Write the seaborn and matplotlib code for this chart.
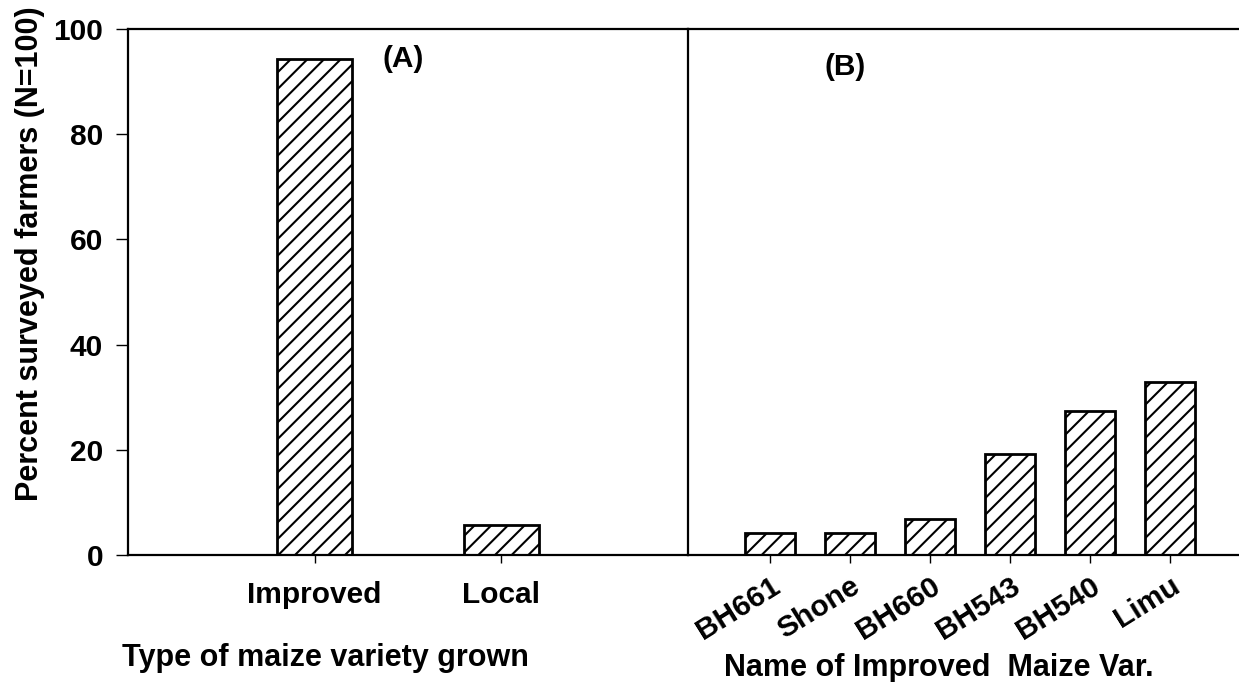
import matplotlib
matplotlib.use("Agg")
import matplotlib.pyplot as plt
import seaborn as sns
import pandas as pd

# Panel A: type of maize variety grown
type_names = ["Improved", "Local"]
type_pct = [94.3, 5.7]

# Panel B: improved maize varieties
var_names = ["BH661", "Shone", "BH660", "BH543", "BH540", "Limu"]
var_pct = [4.1, 4.1, 6.8, 19.2, 27.4, 32.9]

y_ticks = [0, 20, 40, 60, 80, 100]

sns.set_theme(style="white")
plt.rcParams["font.family"] = ["Liberation Sans", "DejaVu Sans"]
plt.rcParams["font.weight"] = "bold"
plt.rcParams["hatch.linewidth"] = 1.5
plt.rcParams["hatch.color"] = "black"
for key in ("text.color", "axes.labelcolor", "xtick.color", "ytick.color"):
    plt.rcParams[key] = "black"

W, H = 1239, 682
fig = plt.figure(figsize=(W / 100, H / 100), dpi=100)
fig.patch.set_facecolor("white")

y0, y1 = 555, 29
x_left0, x_div = 128, 688
axA = fig.add_axes([x_left0 / W, (H - y0) / H, (x_div - x_left0) / W, (y0 - y1) / H])
axB = fig.add_axes([x_div / W, (H - y0) / H, (W - x_div) / W, (y0 - y1) / H])

dfA = pd.DataFrame({"variety": type_names, "pct": type_pct})
dfB = pd.DataFrame({"variety": var_names, "pct": var_pct})

sns.barplot(data=dfA, x="variety", y="pct", order=type_names, color="white",
            edgecolor="black", linewidth=2.0, width=0.4, ax=axA, saturation=1)
sns.barplot(data=dfB, x="variety", y="pct", order=var_names, color="white",
            edgecolor="black", linewidth=2.0, width=0.625, ax=axB, saturation=1)

for ax in (axA, axB):
    for p in ax.patches:
        p.set_hatch("//")
        p.set_facecolor("white")
        p.set_edgecolor("black")
    ax.set_ylim(0, 100)
    ax.set_facecolor("white")
    ax.grid(False)
    for side in ("left", "top", "bottom"):
        ax.spines[side].set_visible(True)
        ax.spines[side].set_color("black")
        ax.spines[side].set_linewidth(1.6)
    ax.spines["right"].set_visible(False)
    ax.set_ylabel("")
    ax.tick_params(axis="x", direction="out", length=6, width=1, color="black",
                   bottom=True, labelsize=21.5, pad=13)

axA.set_xlim(-1.0, 2.0)
axB.set_xlim(-1.025, 5.86)

axA.set_yticks(y_ticks)
axA.tick_params(axis="y", direction="out", length=9, width=1, color="black",
                left=True, labelsize=21.5, pad=9)
for lab in axA.get_yticklabels():
    lab.set_fontweight("bold")
axB.set_yticks(y_ticks)
axB.tick_params(axis="y", left=False, labelleft=False)

for lab in axA.get_xticklabels():
    lab.set_fontweight("bold")

axB.set_xticks(range(len(var_names)))
axB.set_xticklabels(var_names, rotation=32, ha="right", va="top",
                    rotation_mode="anchor", fontweight="bold", fontsize=21.5)
axB.tick_params(axis="x", pad=6)

axA.set_ylabel("Percent surveyed farmers (N=100)", fontsize=22, fontweight="bold")
axA.yaxis.set_label_coords(-0.148, 0.572)

axA.set_xlabel("Type of maize variety grown", fontsize=22, fontweight="bold", va="top")
axA.xaxis.set_label_coords((325 - x_left0) / (x_div - x_left0), -0.168)
axB.set_xlabel("Name of Improved  Maize Var.", fontsize=22, fontweight="bold", va="top")
axB.xaxis.set_label_coords((939 - x_div) / (W - x_div), -0.187)

axA.text(403, H - 59, "(A)", transform=None, fontsize=21.5, fontweight="bold",
         ha="center", va="center")
axB.text(845, H - 67, "(B)", transform=None, fontsize=21.5, fontweight="bold",
         ha="center", va="center")

fig.savefig("out.png", dpi=100, facecolor="white")
